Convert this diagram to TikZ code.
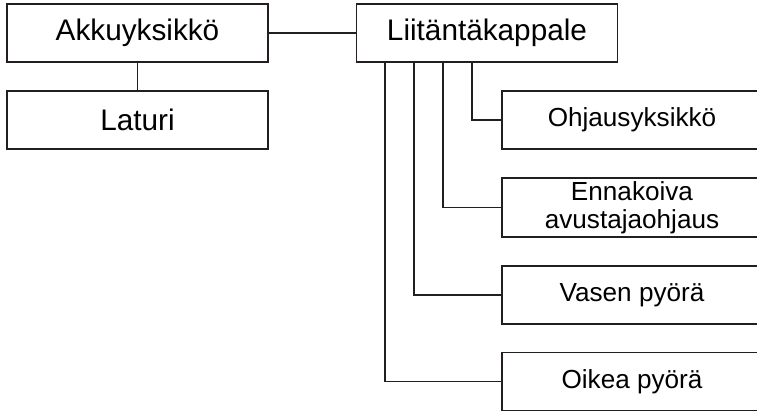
\documentclass[tikz,border=0pt]{standalone}
\usepackage{fontspec}
\setmainfont{Liberation Sans}
\usepackage{tikz}
\usetikzlibrary{calc}
\definecolor{lnblack}{RGB}{35,31,32}

\begin{document}
\begin{tikzpicture}[
  x=0.75pt, y=-0.75pt,
  bigbox/.style={draw=lnblack, rectangle, minimum width=195.75pt, minimum height=43.5pt,
    inner sep=1pt, align=center, line width=0.8pt, font=\fontsize{22.3pt}{26pt}\selectfont},
  unitbox/.style={draw=lnblack, rectangle, minimum width=195pt, minimum height=43.5pt,
    inner sep=1pt, align=center, line width=0.8pt, font=\fontsize{19.6pt}{21pt}\selectfont},
  link/.style={draw=lnblack, line width=0.8pt},
]
\useasboundingbox (0,0) rectangle (757,412);
\clip (0,0) rectangle (757,412);

% ============ Battery side (left) ============
\node[bigbox] (akku) at (137.5,33) {Akkuyksikkö};
\node[bigbox] (laturi) at (137.5,120) {Laturi};

% ============ Interface piece (top) ============
\node[bigbox] (liitanta) at (487,33) {Liitäntäkappale};

% ============ Units (right column, cut by the edge) ============
\node[unitbox] (ohjaus) at (632,120) {Ohjausyksikkö};
\node[unitbox, minimum height=44.25pt] (ennak) at (632,207.5) {Ennakoiva\\avustajaohjaus};
\node[unitbox] (vasen) at (632,295) {Vasen pyörä};
\node[unitbox] (oikea) at (632,381.5) {Oikea pyörä};

% ===================== LINKS =====================
\draw[link] (akku.south) -- (laturi.north);
\draw[link] (akku.east) -- (liitanta.west);

% liitanta fans out downwards, one drop per unit
\draw[link] ($(liitanta.south west)+(116,0)$) |- (ohjaus.west);
\draw[link] ($(liitanta.south west)+(87,0)$) |- (ennak.west);
\draw[link] ($(liitanta.south west)+(58,0)$) |- (vasen.west);
\draw[link] ($(liitanta.south west)+(29,0)$) |- (oikea.west);

\end{tikzpicture}
\end{document}
